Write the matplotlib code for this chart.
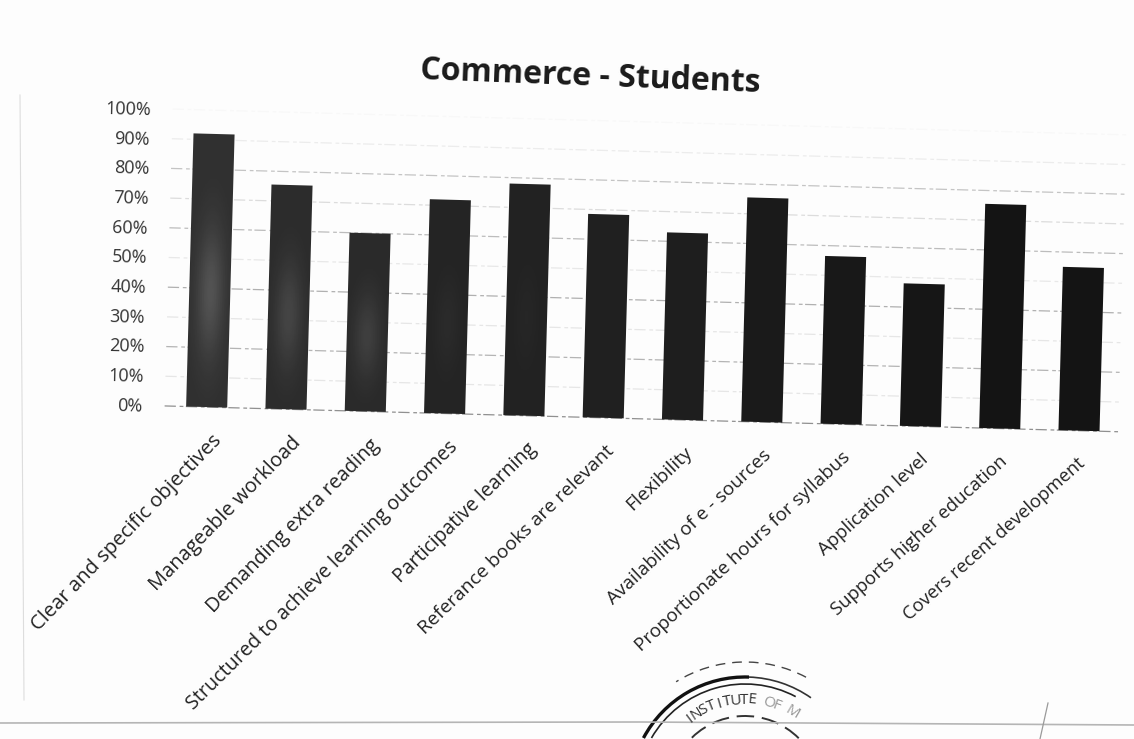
import numpy as np
import matplotlib
matplotlib.use('Agg')
import matplotlib.pyplot as plt
from matplotlib.patches import Arc
from matplotlib.transforms import Affine2D, IdentityTransform

W, H = 1134, 739

categories = ['Clear and specific objectives', 'Manageable workload', 'Demanding extra reading',
              'Structured to achieve learning outcomes', 'Participative learning',
              'Referance books are relevant', 'Flexibility', 'Availability of e - sources',
              'Proportionate hours for syllabus', 'Application level',
              'Supports higher education', 'Covers recent development']
values = [92, 75.5, 60, 72, 78, 68.5, 63, 75.5, 56.5, 48, 75.5, 55]
bar_shades = ['#303030', '#2c2c2c', '#2a2a2a', '#242424', '#222222', '#202020',
              '#1e1e1e', '#1a1a1a', '#181818', '#161616', '#141414', '#141414']
yticks = [0, 10, 20, 30, 40, 50, 60, 70, 80, 90, 100]
grid_shade = ['#909090', '#e6e6e6', '#b4b4b4', '#e6e6e6', '#b0b0b0', '#e8e8e8',
              '#bcbcbc', '#dcdcdc', '#c4c4c4', '#ececec', '#f8f8f8']

fig = plt.figure(figsize=(W / 100, H / 100), dpi=100, facecolor='#fdfdfd')
ax = fig.add_axes([167 / W, (H - 406) / H, 952 / W, 297 / H])
ax.axis('off')

# the page was scanned a bit crooked, so everything goes through this
tilt = Affine2D().rotate_deg_around(167, H - 406, -1.55)
tr = ax.transData + tilt

x = np.arange(len(categories))
for t, c in zip(yticks, grid_shade):
    ax.plot([-0.53, 11.5], [t, t], color=c, lw=0.9, ls=(0, (9, 3, 3, 2)), transform=tr, clip_on=False, zorder=1)

bars = ax.bar(x, values, width=0.518, color=bar_shades, zorder=2)
for b in bars:
    b.set_transform(tr)
    b.set_clip_on(False)

# lighter patch in the middle of the first bars (uneven toner)
glow = [0.17, 0.12, 0.10, 0.03, 0.02]
for i, a in enumerate(glow):
    yy, xx = np.mgrid[0:1:60j, -1:1:20j]
    rgba = np.ones((60, 20, 4))
    rgba[:, :, 3] = a * np.exp(-((yy - 0.42) / 0.24) ** 2) * np.exp(-(xx / 0.7) ** 2)
    ax.imshow(rgba, extent=[i - 0.25, i + 0.25, 0, values[i]], origin='lower',
              aspect='auto', zorder=3, transform=tr, clip_on=False)
ax.set_xlim(-0.5, 11.5)
ax.set_ylim(0, 100)

for t in yticks:
    ax.annotate('%d%%' % t, xy=(-0.805, t), xycoords=tr, xytext=(0, -1), textcoords='offset points',
                ha='right', va='center', fontsize=13, family='Open Sans', color='#333333',
                rotation=-1.5, rotation_mode='anchor')

# page is not flat on the scanner: labels get smaller and flatter to the right
n = len(categories)
for i, name in enumerate(categories):
    f = i / (n - 1)
    ax.annotate(name, xy=(i, 0), xycoords=tr, xytext=(3.7 - 5.1 * f, -17), textcoords='offset points',
                ha='right', va='top', rotation=46 - 4.5 * f, rotation_mode='anchor',
                fontsize=14.6 - 1.4 * f, family='Open Sans', color='#222222')

fig.text(590 / W, 1 - 77 / H, 'Commerce - Students', ha='center', va='center', fontsize=23,
         fontweight='bold', family='Open Sans', color='#1a1a1a', rotation=-2.2)

# scan edges
id_tr = IdentityTransform()
def page_line(xs, ys, **kw):
    fig.add_artist(plt.Line2D(xs, [H - v for v in ys], transform=id_tr, **kw))
page_line([0, 640, 1134], [723, 722, 725], color='#b5b5b5', lw=1.2)
page_line([20, 24], [95, 700], color='#dddddd', lw=0.8)
page_line([1048, 1040], [703, 739], color='#9a9a9a', lw=0.9)

# stamp at the bottom edge
cx, cy = 745, H - 792
for r, lw, col, st, en, ls in [(130, 1.0, '#444444', 62, 122, (0, (7, 5))),
                               (115, 2.4, '#111111', 88, 152, '-'),
                               (115, 1.2, '#333333', 55, 88, '-'),
                               (108, 1.2, '#222222', 62, 150, '-'),
                               (76, 1.4, '#333333', 45, 140, (0, (9, 4)))]:
    fig.add_artist(Arc((cx, cy), 2 * r, 2 * r, theta1=st, theta2=en, color=col, lw=lw,
                       ls=ls, transform=id_tr))
stamp = 'INSTITUTE OF M'
for k, ch in enumerate(stamp):
    ang = 127 - k * 5.2
    a = np.radians(ang)
    fig.text((cx + 92 * np.cos(a)) / W, (cy + 92 * np.sin(a)) / H, ch, rotation=ang - 90,
             ha='center', va='center', fontsize=11, family='Open Sans', color='#333333' if k < 9 else '#999999')

fig.savefig('out.png', dpi=100, facecolor=fig.get_facecolor())
